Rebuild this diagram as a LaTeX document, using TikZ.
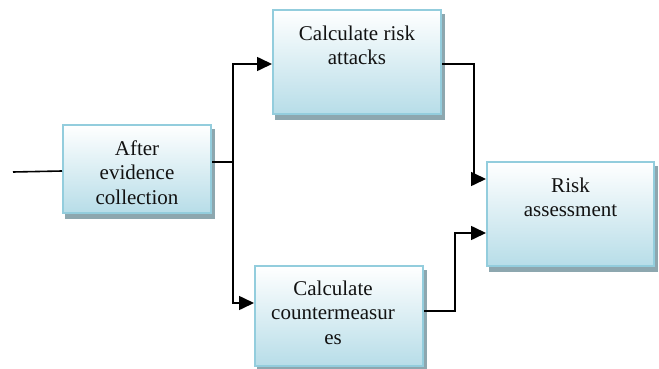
\documentclass[tikz,border=0pt]{standalone}
\usepackage{fontspec}
\setmainfont{Liberation Serif}
\usetikzlibrary{arrows.meta,calc,backgrounds}
\definecolor{bxborder}{HTML}{93CDDD}
\definecolor{bxbottom}{HTML}{B7DDE8}
\definecolor{bxshadow}{HTML}{8DA7AF}
\begin{document}
\begin{tikzpicture}[x=1pt,y=1pt,
  boxnode/.style={draw=bxborder, line width=2pt, top color=white, bottom color=bxbottom,
    rectangle, inner sep=0pt, anchor=north west},
  boxtext/.style={font=\fontsize{21}{24.5}\selectfont, align=center, inner sep=0pt, anchor=base, text=black!93},
  conn/.style={line width=1.6pt, black},
  arr/.style={conn, -{Triangle[length=15pt,width=14pt]}}]
\useasboundingbox (0,0) rectangle (659,-369);

\node[boxnode, minimum width=148pt, minimum height=88pt] (a) at (62,-124) {};
\node[boxnode, minimum width=168pt, minimum height=104pt] (b) at (272,-9) {};
\node[boxnode, minimum width=168pt, minimum height=100pt] (c) at (254,-265) {};
\node[boxnode, minimum width=167pt, minimum height=104pt] (d) at (486,-161) {};

\begin{scope}[on background layer]
  \foreach \n in {a,b,c,d} {
    \fill[bxshadow] ($(\n.south west)+(3,-5)$) rectangle ($(\n.north east)+(3,-5)$);
  }
\end{scope}

\begin{scope}
  \clip ($(a.north west)+(0,0)$) rectangle ($(a.south east)+(0,10)$);
  \node[boxtext] (at) at ($(a.north)+(0,-80)$) {After\\evidence\\collection};
\end{scope}
\node[boxtext] (bt) at ($(b.north)+(0,-55.5)$) {Calculate risk\\attacks};
\node[boxtext] (ct) at ($(c.north)+(-6,-79)$) {Calculate\\countermeasur\\es};
\node[boxtext] (dt) at ($(d.north)+(0,-55.5)$) {Risk\\assessment};

\coordinate (in) at (13,-172);
\draw[conn] (in) -- ([yshift=-2pt]a.west);

\coordinate (j) at ($(a.east)+(21,7)$);
\draw[conn] ([yshift=7pt]a.east) -- (j);
\draw[arr] (j) |- ([yshift=-2pt]b.west);
\draw[arr] (j) |- ([yshift=13pt]c.west);

\draw[arr] ([yshift=-2pt]b.east) -| ($(d.west)+(-12,35)$) -- ([yshift=35pt]d.west);
\draw[arr] ([yshift=5pt]c.east) -| ($(d.west)+(-31,-19)$) -- ([yshift=-19pt]d.west);
\end{tikzpicture}
\end{document}
